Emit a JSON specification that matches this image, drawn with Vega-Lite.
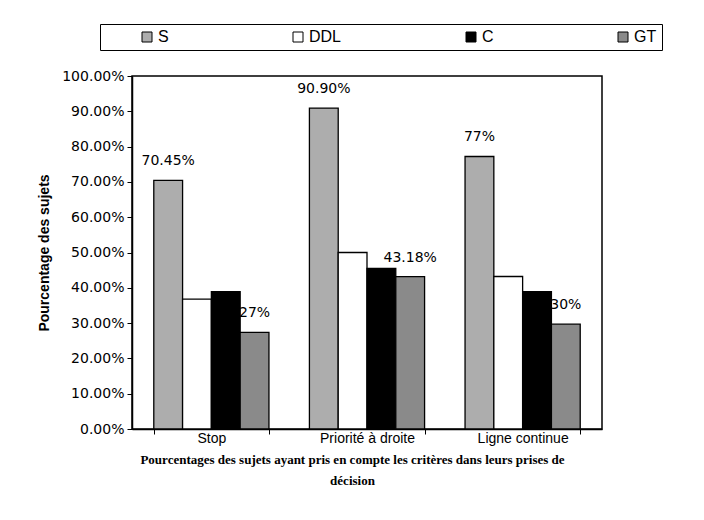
{
  "$schema": "https://vega.github.io/schema/vega-lite/v6.json",
  "autosize": {"type": "none"},
  "width": 470,
  "height": 353,
  "padding": {"left": 132, "top": 76, "right": 102, "bottom": 91},
  "background": "white",
  "config": {
    "font": "Liberation Sans",
    "view": {"stroke": "black", "strokeWidth": 1.5}
  },
  "data": {
    "values": [
      {"critere": "Stop", "groupe": "S", "value": 0.7045, "label": "70.45%"},
      {"critere": "Stop", "groupe": "DDL", "value": 0.368, "label": ""},
      {"critere": "Stop", "groupe": "C", "value": 0.389, "label": ""},
      {"critere": "Stop", "groupe": "GT", "value": 0.274, "label": "27%"},
      {"critere": "Priorité à droite", "groupe": "S", "value": 0.909, "label": "90.90%"},
      {"critere": "Priorité à droite", "groupe": "DDL", "value": 0.500, "label": ""},
      {"critere": "Priorité à droite", "groupe": "C", "value": 0.455, "label": ""},
      {"critere": "Priorité à droite", "groupe": "GT", "value": 0.4318, "label": "43.18%"},
      {"critere": "Ligne continue", "groupe": "S", "value": 0.772, "label": "77%"},
      {"critere": "Ligne continue", "groupe": "DDL", "value": 0.432, "label": ""},
      {"critere": "Ligne continue", "groupe": "C", "value": 0.389, "label": ""},
      {"critere": "Ligne continue", "groupe": "GT", "value": 0.297, "label": "30%"}
    ]
  },
  "encoding": {
    "x": {
      "field": "critere",
      "type": "nominal",
      "sort": ["Stop", "Priorité à droite", "Ligne continue"],
      "scale": {"paddingInner": 0.26, "paddingOuter": 0.14},
      "axis": {
        "title": ["Pourcentages des sujets ayant pris en compte les critères dans leurs prises de", "décision"],
        "titleFont": "Liberation Serif",
        "titleFontWeight": "bold",
        "titleFontSize": 13,
        "titleLineHeight": 21,
        "titlePadding": 8,
        "titleColor": "black",
        "titleX": 220,
        "labelAngle": 0,
        "labelFontSize": 14,
        "labelColor": "black",
        "labelPadding": -3,
        "tickBand": "extent",
        "tickSize": 5,
        "tickColor": "black",
        "domainColor": "black",
        "domainWidth": 1.5
      }
    },
    "xOffset": {
      "field": "groupe",
      "type": "nominal",
      "sort": ["S", "DDL", "C", "GT"],
      "scale": {"paddingInner": 0, "paddingOuter": 0}
    },
    "y": {
      "field": "value",
      "type": "quantitative",
      "scale": {"domain": [0, 1]},
      "axis": {
        "title": "Pourcentage des sujets",
        "titleFontSize": 14,
        "titleFontWeight": "bold",
        "titleColor": "black",
        "titlePadding": 10,
        "format": ".2%",
        "values": [0, 0.1, 0.2, 0.3, 0.4, 0.5, 0.6, 0.7, 0.8, 0.9, 1],
        "labelFont": "DejaVu Sans",
        "labelFontSize": 14,
        "labelColor": "black",
        "labelPadding": 3,
        "tickSize": 5,
        "tickColor": "black",
        "domainColor": "black",
        "domainWidth": 1.5,
        "grid": false
      }
    }
  },
  "layer": [
    {
      "mark": {"type": "bar", "stroke": "black", "strokeWidth": 1.3},
      "encoding": {
        "fill": {
          "field": "groupe",
          "type": "nominal",
          "sort": ["S", "DDL", "C", "GT"],
          "scale": {"domain": ["S", "DDL", "C", "GT"], "range": ["#adadad", "#ffffff", "#000000", "#8a8a8a"]},
          "legend": {
            "orient": "none",
            "legendX": -32,
            "legendY": -52,
            "direction": "horizontal",
            "columns": 4,
            "columnPadding": 87,
            "padding": 5,
            "strokeColor": "black",
            "fillColor": "white",
            "title": null,
            "symbolType": "square",
            "symbolSize": 100,
            "symbolOffset": 34,
            "symbolStrokeColor": "black",
            "symbolStrokeWidth": 1,
            "labelFontSize": 16,
            "labelColor": "black",
            "labelOffset": 3
          }
        }
      }
    },
    {
      "mark": {"type": "text", "font": "DejaVu Sans", "fontSize": 14, "dy": -19, "baseline": "middle", "color": "black"},
      "encoding": {
        "text": {"field": "label"}
      }
    }
  ]
}
